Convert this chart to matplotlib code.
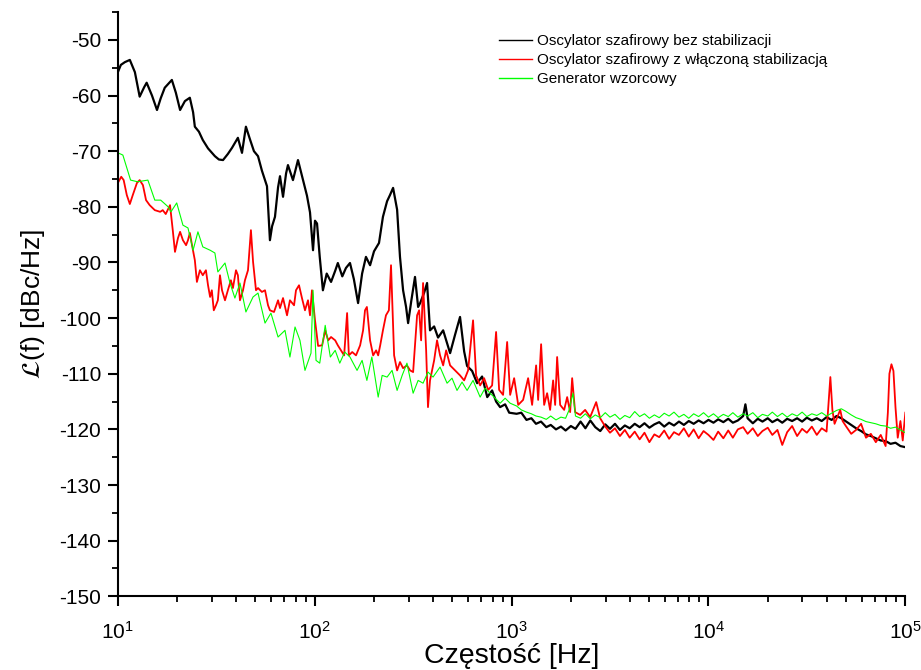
import numpy as np
import matplotlib
matplotlib.use("Agg")
import matplotlib.pyplot as plt
from matplotlib.ticker import MultipleLocator

plt.rcParams['font.family'] = ['Liberation Sans', 'DejaVu Sans']
plt.rcParams['mathtext.default'] = 'regular'
plt.rcParams['axes.unicode_minus'] = False

# Oscylator szafirowy bez stabilizacji
black_f = [10.0, 10.35, 10.85, 11.5, 12.2, 12.9, 13.6, 14.0, 14.9, 15.8, 16.5, 17.3, 18.8,
           19.7, 20.7, 21.9, 23.2, 24.1, 24.6, 25.8, 27.0, 28.7, 31.1, 32.6, 34.2, 36.2,
           38.0, 39.3, 40.7, 42.7, 44.7, 46.9, 49.1, 51.5, 53.9, 57.2, 59.2, 60.7, 62.8,
           65.1, 66.6, 69.0, 71.5, 73.1, 77.5, 82.2, 87.2, 91.3, 94.6, 98.0, 100.3, 102.7,
           106, 110, 115, 121, 127, 131, 138, 144, 151, 158, 166, 174, 182, 191, 200, 212,
           222, 233, 241, 250, 262, 271, 281, 291, 298, 309, 323, 335, 343, 359, 372, 385,
           404, 423, 449, 470, 487, 516, 547, 574, 594, 630, 668, 708, 752, 796, 834, 874,
           927, 972, 1018,
           1060, 1120, 1190, 1260, 1330, 1410, 1500, 1580, 1680, 1780, 1880, 2000, 2110,
           2240, 2370, 2510, 2660, 2820, 2990, 3160, 3350, 3550, 3760, 3980, 4220, 4470,
           4730, 5010, 5310, 5620, 5960, 6310, 6680, 7080, 7500, 7940, 8410, 8910, 9440,
           10000, 10600, 11200, 11900, 12600, 13300, 14100, 15000, 15400, 15800, 16800,
           17800, 18800, 20000, 21100, 22400, 23700, 25100, 26600, 28200, 29900, 31600,
           33500, 35500, 37600, 39800, 42200, 44700, 47300, 50100, 53100, 56200, 59600,
           63100, 66800, 70800, 75000, 79400, 84100, 89100, 94400, 100000]
black_l = [-55.8, -54.5, -54.0, -53.6, -55.8, -60.2, -58.5, -57.7, -60.0, -62.6, -60.5, -58.6,
           -57.2, -59.5, -62.6, -61.0, -60.4, -63.0, -65.6, -66.5, -68.0, -69.5, -70.9, -71.5,
           -71.6, -70.5, -69.4, -68.5, -67.6, -70.3, -65.6, -67.9, -70.0, -70.9, -73.5, -76.3,
           -86.0, -83.5, -81.8, -76.5, -74.5, -78.2, -74.0, -72.5, -75.2, -71.6, -75.2, -78.0,
           -81.0, -87.8, -82.5, -83.0, -89.0, -95.0, -92.0, -93.5, -91.5, -90.1, -92.5, -91.0,
           -90.1, -93.0, -97.3, -92.0, -89.0, -90.5, -88.0, -86.5, -81.8, -79.0, -77.9, -76.6,
           -80.5, -89.0, -95.0, -98.0, -100.9, -97.0, -92.6, -98.0, -97.3, -95.5, -93.7,
           -102.2, -101.5, -103.5, -102.2, -104.5, -106.3, -103.0, -99.8, -106.0, -108.6,
           -109.5, -111.7, -110.5, -114.2, -113.0, -115.0, -116.0, -115.5, -117.0, -117.1,
           -117.2, -117.0, -118.3, -118.0, -119.0, -118.6, -119.6, -119.2, -120.0, -119.5,
           -120.2, -119.4, -119.9, -118.6, -119.8, -118.4, -119.6, -120.3, -119.1, -119.9,
           -119.0, -120.1, -119.3, -119.8, -119.0, -119.6, -118.9, -119.7, -119.1, -118.7,
           -119.5, -118.8, -119.3, -118.6, -119.2, -118.5, -119.0, -118.4, -118.9, -118.3,
           -118.8, -118.2, -118.7, -118.1, -118.8, -118.4, -117.6, -115.5, -118.0, -118.9,
           -118.1, -118.6, -118.0, -118.7, -118.2, -118.8, -118.1, -118.5, -118.0, -118.6,
           -117.9, -118.4, -118.0, -118.5, -117.8, -118.3, -117.6, -118.0, -118.6, -119.2,
           -119.8, -120.3, -120.9, -121.2, -121.6, -122.0, -122.1, -122.6, -122.4, -123.0,
           -123.2]

# Oscylator szafirowy z wlaczona stabilizacja
red_f = [10.0, 10.4, 10.7, 11.1, 11.5, 11.9, 12.5, 12.9, 13.4, 13.9, 14.5, 15.4, 16.4, 16.9,
         17.5, 18.4, 19.0, 19.5, 20.2, 20.7, 21.4, 22.2, 22.7, 23.2, 23.8, 24.6, 25.2, 26.1,
         27.0, 28.0, 28.7, 29.4, 30.0, 30.7, 31.5, 32.2, 33.0, 33.8, 35.0, 36.2, 37.5, 38.4,
         39.8, 40.7, 41.7, 43.2, 44.2, 45.8, 47.4, 48.6, 50.3, 51.5, 53.9, 55.9, 57.9, 59.2,
         62.1, 65.1, 66.6, 69.0, 72.3, 74.8, 78.5, 80.3, 83.2, 86.1, 89.2, 92.4, 94.6, 96.8,
         100.3, 104, 109, 113, 117, 121, 127, 131, 136, 141, 146, 149, 155, 162, 170, 176,
         180, 184, 191, 198, 205, 210, 215, 222, 230, 238, 244, 253, 262, 271, 281, 294,
         305, 316, 323, 331, 339, 347, 355, 368, 376, 385, 404, 418, 433, 449, 465, 487,
         516, 547, 574, 601, 637, 660, 692, 725, 760, 796, 834, 864, 905, 949, 983, 1030,
         1080, 1144, 1213, 1271, 1332, 1364, 1412, 1463, 1515, 1569, 1625, 1664, 1703,
         1764, 1849, 1915, 1983, 2030, 2102, 2229, 2363, 2506, 2689, 2817,
         2990, 3160, 3350, 3550, 3760, 3980, 4220, 4470, 4730, 5010, 5310, 5620, 5960,
         6310, 6680, 7080, 7500, 7940, 8410, 8910, 9440, 10000, 10600, 11200, 11900, 12600,
         13300, 14100, 15000, 15800, 16800, 17800, 18800, 20000, 21100, 22400, 23700, 25100,
         26600, 28200, 29900, 31600, 33500, 35500, 37600, 39800, 40600, 41600, 42600, 43700,
         45500, 46700, 48000, 50100, 53100, 56200, 59600, 63100, 66800, 70800, 75000, 79400,
         81500, 83000, 85000, 87000, 89100, 91500, 94400, 97000, 100000]
red_l = [-75.7, -74.6, -75.2, -77.9, -79.5, -77.9, -75.7, -75.2, -76.1, -78.8, -79.7, -80.6,
         -80.9, -80.6, -81.3, -79.7, -84.2, -88.1, -85.6, -84.5, -86.0, -86.9, -86.0, -84.7,
         -86.9, -89.6, -93.5, -91.4, -92.3, -91.4, -94.1, -96.2, -95.0, -98.6, -97.7, -96.8,
         -92.3, -95.0, -96.8, -95.0, -93.2, -94.6, -91.4, -92.3, -96.8, -95.0, -93.2, -91.4,
         -84.2, -89.9, -95.0, -94.6, -95.3, -95.0, -97.7, -98.6, -98.9, -96.8, -98.2, -96.4,
         -99.5, -96.8, -97.7, -95.0, -94.1, -96.4, -98.6, -96.8, -99.5, -95.0, -100.4, -105.0,
         -104.9, -102.2, -104.0, -103.4, -104.0, -104.9, -105.8, -106.7, -99.1, -106.7,
         -106.1, -106.7, -104.9, -102.2, -98.6, -98.0, -104.0, -106.7, -105.8, -106.7,
         -104.9, -102.2, -99.5, -98.6, -90.5, -106.7, -109.4, -107.9, -109.0, -108.5, -109.4,
         -109.7, -104.9, -99.5, -98.6, -104.0, -93.7, -105.8, -116.0, -111.2, -107.6, -104.0,
         -106.7, -108.5, -105.8, -108.5, -109.4, -110.3, -111.2, -109.4, -100.4, -110.3,
         -112.1, -110.8, -112.9, -112.1, -102.5, -112.9, -113.8, -104.3, -113.8, -110.8,
         -115.6, -114.7, -110.8, -115.6, -108.5, -114.7, -104.7, -115.6, -113.5, -116.5,
         -111.2, -115.6, -107.0, -115.6, -116.5, -114.2, -116.9, -110.8, -116.9, -117.4,
         -116.5, -117.8, -115.1, -118.0,
         -119.5, -120.6, -119.8, -121.2, -120.1, -121.5, -120.4, -121.8, -120.6, -122.3,
         -120.9, -121.4, -120.2, -121.7, -120.5, -121.0, -119.8, -121.3, -120.0, -121.6,
         -120.3, -121.0, -121.9, -120.4, -121.6, -120.2, -121.5, -120.0, -119.6, -120.8,
         -119.8, -121.2, -120.3, -119.7, -121.0, -120.1, -122.8, -120.5, -119.4, -121.2,
         -119.9, -120.6, -119.5, -121.0, -119.8, -120.4, -116.0, -110.6, -116.5, -119.0,
         -117.5, -116.5, -118.5, -119.5, -120.8, -120.1, -119.0, -121.5, -120.8, -122.3,
         -121.0, -123.0, -117.0, -110.0, -108.3, -109.5, -116.0, -121.5, -118.5, -122.0,
         -117.0]

# Generator wzorcowy
green_f = [10.0, 10.6, 11.6, 12.6, 14.2, 15.4, 16.5, 18.0, 18.6, 19.9, 21.4, 22.7, 24.1,
           25.5, 27.0, 29.4, 31.1, 32.2, 35.0, 37.1, 39.3, 41.7, 44.7, 48.6, 51.5, 55.9,
           59.9, 65.1, 70.6, 74.8, 79.4, 84.1, 89.2, 95.7, 98.0, 101.5, 106, 113, 120, 127,
           134, 142, 151, 164, 174, 184, 195, 210, 220, 233, 247, 262, 278, 294, 316, 335,
           355, 376, 399, 433, 470, 498, 528, 560, 594, 637, 692, 733, 778, 824, 874, 927,
           983,
           1060, 1120, 1190, 1260, 1330, 1410, 1500, 1580, 1680, 1780, 1880, 1960, 2050,
           2110, 2240, 2370, 2510, 2660, 2820, 2990, 3160, 3350, 3550, 3760, 3980, 4220,
           4470, 4730, 5010, 5310, 5620, 5960, 6310, 6680, 7080, 7500, 7940, 8410, 8910,
           9440, 10000, 10600, 11200, 11900, 12600, 13300, 14100, 15000, 15800, 16800, 17800,
           18800, 20000, 21100, 22400, 23700, 25100, 26600, 28200, 29900, 31600, 33500,
           35500, 37600, 39800, 42200, 44700, 47300, 50100, 53100, 56200, 59600, 63100,
           66800, 70800, 75000, 79400, 84100, 89100, 94400, 100000]
green_l = [-70.3, -70.7, -75.2, -75.5, -75.2, -78.8, -78.8, -80.0, -80.9, -79.3, -83.3, -83.8,
           -87.8, -84.5, -87.2, -87.8, -88.3, -91.7, -90.1, -93.7, -96.4, -93.7, -98.9, -96.2,
           -95.5, -100.9, -99.1, -103.4, -102.2, -107.0, -101.6, -104.0, -109.4, -106.3,
           -95.0, -107.6, -108.1, -101.3, -107.0, -105.8, -108.1, -106.1, -107.0, -109.4,
           -107.6, -111.2, -107.0, -114.2, -110.3, -110.6, -109.4, -113.0, -110.3, -108.1,
           -113.5, -111.2, -111.7, -109.7, -110.6, -108.8, -111.7, -110.8, -113.0, -111.5,
           -113.0, -111.2, -114.2, -112.6, -113.5, -114.4, -115.3, -114.4, -115.3,
           -115.8, -116.5, -116.9, -117.2, -117.6, -117.8, -118.2, -117.6, -118.3, -117.8,
           -118.0, -116.5, -113.5, -117.6, -118.0, -117.2, -118.1, -117.4, -117.9, -117.0,
           -117.8, -117.3, -118.2, -117.5, -117.9, -116.8, -117.7, -117.2, -118.0, -117.4,
           -117.9, -117.1, -117.6, -116.9, -117.8, -117.3, -118.0, -117.2, -117.7, -117.0,
           -117.8, -117.2, -117.9, -117.3, -117.7, -117.0, -117.8, -117.2, -117.6, -117.0,
           -117.9, -117.3, -117.6, -116.9, -117.7, -117.1, -117.8, -117.2, -117.6, -116.9,
           -117.7, -117.2, -117.5, -117.0, -117.6, -117.1, -116.6, -116.3, -116.8, -117.4,
           -117.9, -118.2, -118.6, -118.8, -119.0, -119.3, -119.4, -119.8, -119.6, -120.1,
           -120.6]

labels = ['Oscylator szafirowy bez stabilizacji',
          'Oscylator szafirowy z włączoną stabilizacją',
          'Generator wzorcowy']

fig = plt.figure(figsize=(9.21, 6.70), dpi=100)
ax = fig.add_axes([0.128, 0.110, 0.855, 0.872])

ax.plot(black_f, black_l, color='black', lw=1.6, label=labels[0])
ax.plot(red_f, red_l, color='#ff0000', lw=1.3, label=labels[1])
ax.plot(green_f, green_l, color='#00ff00', lw=0.8, label=labels[2])

ax.set_xscale('log')
ax.set_xlim(10, 1e5)
ax.set_ylim(-150, -45)
ax.yaxis.set_major_locator(MultipleLocator(10))
ax.yaxis.set_minor_locator(MultipleLocator(5))

ax.spines['top'].set_visible(False)
ax.spines['right'].set_visible(False)
for s in ('left', 'bottom'):
    ax.spines[s].set_linewidth(1.5)
ax.tick_params(which='major', direction='out', length=7, width=1.5, labelsize=15)
ax.tick_params(which='minor', direction='out', length=4, width=1.3)
ax.tick_params(axis='x', which='major', pad=11)
ax.tick_params(axis='y', which='major', pad=5)

ax.set_xlabel('Częstość [Hz]', fontsize=20.5, labelpad=0)
ax.set_ylabel(r'$\mathcal{L}$(f) [dBc/Hz]', fontsize=19, labelpad=9)

leg = ax.legend(loc='upper left', bbox_to_anchor=(0.474, 0.975), frameon=False, fontsize=11,
                handlelength=2.2, handletextpad=0.3, labelspacing=0.33, borderpad=0)
for line in leg.get_lines():
    line.set_linewidth(1.0)

fig.savefig('out.png', dpi=100)
